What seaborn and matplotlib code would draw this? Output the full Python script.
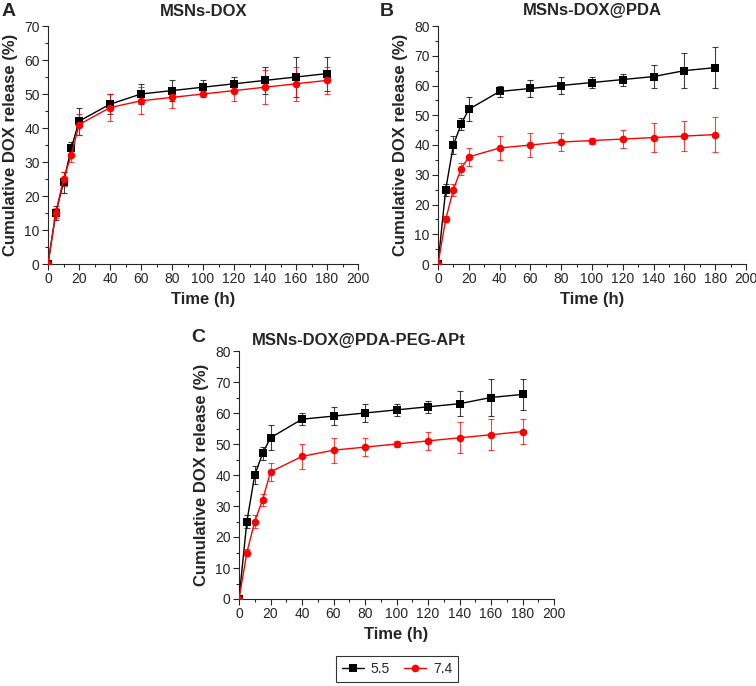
import numpy as np
import pandas as pd
import matplotlib
matplotlib.use("Agg")
import matplotlib.pyplot as plt
from matplotlib.lines import Line2D
from matplotlib.ticker import MultipleLocator
import seaborn as sns

# release data
time_h = [0, 5, 10, 15, 20, 40, 60, 80, 100, 120, 140, 160, 180]

a_ph55 = [0, 15, 24, 34, 42, 47, 50, 51, 52, 53, 54, 55, 56]
a_ph55_err = [0, 2, 3, 2, 4, 3, 3, 3, 2, 2, 4, 6, 5]
a_ph74 = [0, 15, 25, 32, 41, 46, 48, 49, 50, 51, 52, 53, 54]
a_ph74_err = [0, 1.5, 2, 2, 3, 4, 4, 3, 1, 3, 5, 5, 4]

b_ph55 = [0, 25, 40, 47, 52, 58, 59, 60, 61, 62, 63, 65, 66]
b_ph55_err = [0, 2, 3, 2, 4, 2, 3, 3, 2, 2, 4, 6, 7]
b_ph74 = [0, 15, 25, 32, 36, 39, 40, 41, 41.5, 42, 42.5, 43, 43.5]
b_ph74_err = [0, 1, 2, 2, 3, 4, 4, 3, 1, 3, 5, 5, 6]

c_ph55 = [0, 25, 40, 47, 52, 58, 59, 60, 61, 62, 63, 65, 66]
c_ph55_err = [0, 2, 3, 2, 4, 2, 3, 3, 2, 2, 4, 6, 5]
c_ph74 = [0, 15, 25, 32, 41, 46, 48, 49, 50, 51, 52, 53, 54]
c_ph74_err = [0, 1, 2, 2, 3, 4, 4, 3, 1, 3, 5, 5, 4]

ph_labels = ["5.5", "7.4"]
titles = ["MSNs-DOX", "MSNs-DOX@PDA", "MSNs-DOX@PDA-PEG-APt"]
letters = ["A", "B", "C"]
colors = {"5.5": "black", "7.4": "#ff0000"}
markers = {"5.5": "s", "7.4": "o"}

sns.set_style("ticks")
plt.rcParams["font.family"] = ["Liberation Sans", "DejaVu Sans"]

fig = plt.figure(figsize=(7.56, 6.86), dpi=100)
W, H = 756, 686


def px_axes(x0, x1, y_top, y_bot):
    return fig.add_axes([x0 / W, 1 - y_bot / H, (x1 - x0) / W, (y_bot - y_top) / H])


panels = [
    (px_axes(48, 358, 26, 264), a_ph55, a_ph55_err, a_ph74, a_ph74_err, 70),
    (px_axes(438, 746, 26, 264), b_ph55, b_ph55_err, b_ph74, b_ph74_err, 80),
    (px_axes(239, 554, 351, 599), c_ph55, c_ph55_err, c_ph74, c_ph74_err, 80),
]

for ax, y55, e55, y74, e74, ymax in panels:
    for ph, vals, err in [("5.5", y55, e55), ("7.4", y74, e74)]:
        df = pd.DataFrame({"time": time_h, "release": vals})
        ax.errorbar(time_h, vals, yerr=err, fmt="none", ecolor=colors[ph],
                    elinewidth=0.8, capsize=2.2, capthick=0.8, alpha=0.75, zorder=2)
        sns.lineplot(data=df, x="time", y="release", ax=ax, color=colors[ph],
                     marker=markers[ph], markersize=5.5, markeredgewidth=0,
                     linewidth=1, zorder=3)
    ax.set_xlim(0, 200)
    ax.set_ylim(0, ymax)
    ax.xaxis.set_major_locator(MultipleLocator(20))
    ax.xaxis.set_minor_locator(MultipleLocator(10))
    ax.yaxis.set_major_locator(MultipleLocator(10))
    ax.yaxis.set_minor_locator(MultipleLocator(5))
    ax.tick_params(which="major", length=4, width=0.8, labelsize=10, pad=2)
    ax.tick_params(which="minor", length=2, width=0.8)
    for s in ["left", "bottom"]:
        ax.spines[s].set_linewidth(0.8)
    sns.despine(ax=ax)
    ax.set_xlabel("Time (h)", fontsize=12, fontweight="bold", labelpad=4)
    ax.set_ylabel("Cumulative DOX release (%)", fontsize=12, fontweight="bold", labelpad=4)

# titles and panel letters
fig.text(204 / W, 1 - 11 / H, titles[0], ha="center", va="center", fontsize=12, fontweight="bold")
fig.text(592 / W, 1 - 11 / H, titles[1], ha="center", va="center", fontsize=12, fontweight="bold")
fig.text(359 / W, 1 - 340 / H, titles[2], ha="center", va="center", fontsize=12, fontweight="bold")
fig.text(2 / W, 1 - 11 / H, letters[0], ha="left", va="center", fontsize=14, fontweight="bold")
fig.text(380 / W, 1 - 11 / H, letters[1], ha="left", va="center", fontsize=14, fontweight="bold")
fig.text(191 / W, 1 - 338 / H, letters[2], ha="left", va="center", fontsize=14, fontweight="bold")

handles = [Line2D([0], [0], color=colors[p], marker=markers[p], markersize=5.5,
                  markeredgewidth=0, linewidth=1) for p in ph_labels]
leg = fig.legend(handles, ph_labels, loc="center", bbox_to_anchor=(397 / W, 1 - 669 / H),
                 ncol=2, frameon=True, fancybox=False, fontsize=10, handlelength=1.6,
                 columnspacing=1.0, borderpad=0.4, handletextpad=0.5)
leg.get_frame().set_edgecolor("black")
leg.get_frame().set_linewidth(0.8)

fig.savefig("out.png", dpi=100)
